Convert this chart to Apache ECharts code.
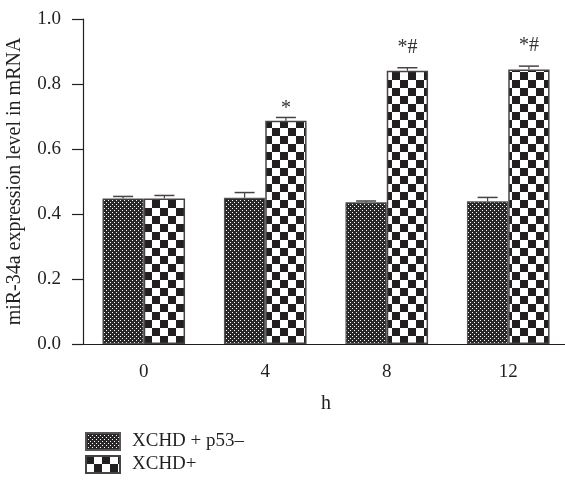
<!DOCTYPE html>
<html><head><meta charset="utf-8">
<script src="https://cdn.jsdelivr.net/npm/echarts@6/dist/echarts.min.js"></script>
<style>html,body{margin:0;padding:0;background:#fff}#c{width:565px;height:483px}</style>
</head><body><div id="c"></div>
<script>
const categories = ['0', '4', '8', '12'];
const p53Values = [0.448, 0.450, 0.436, 0.439];
const p53Err = [0.006, 0.016, 0.004, 0.012];
const xchdValues = [0.448, 0.687, 0.841, 0.845];
const xchdErr = [0.009, 0.010, 0.009, 0.010];
const xchdMarks = ['', '*', '*#', '*#'];
const seriesNames = ['XCHD + p53\u2013', 'XCHD+'];
const yMin = 0, yMax = 1.0, yStep = 0.2;

const INK = '#231f20';
const FONT = '"Liberation Serif", "DejaVu Serif", serif';

function checker() {
  const c = document.createElement('canvas'); c.width = 16; c.height = 16;
  const g = c.getContext('2d');
  g.fillStyle = '#fff'; g.fillRect(0, 0, 16, 16);
  g.fillStyle = INK; g.fillRect(0, 0, 8, 8); g.fillRect(8, 8, 8, 8);
  return c;
}
function dotted() {
  const c = document.createElement('canvas'); c.width = 4; c.height = 4;
  const g = c.getContext('2d');
  g.fillStyle = '#2a2728'; g.fillRect(0, 0, 4, 4);
  g.fillStyle = '#fff'; g.fillRect(0, 0, 1, 1); g.fillRect(2, 2, 1, 1);
  return c;
}
const GAP = 0.32;
function errRender(side, marks) {
  return function (params, api) {
    const idx = api.value(0), v = api.value(1), top = api.value(2);
    const band = api.size([1, 0])[0];
    const bw = band * (1 - GAP) / 2;
    const c0 = api.coord([idx, v]);
    const c1 = api.coord([idx, top]);
    const x = c0[0] + side * bw / 2;
    const half = 10;
    const children = [
      { type: 'line', shape: { x1: x, y1: c0[1], x2: x, y2: c1[1] }, style: { stroke: '#444', lineWidth: 1.2 } },
      { type: 'line', shape: { x1: x - half, y1: c1[1], x2: x + half, y2: c1[1] }, style: { stroke: '#444', lineWidth: 1.5 } }
    ];
    const m = marks && marks[params.dataIndex];
    if (m) {
      children.push({ type: 'text', style: { x: x, y: c1[1] - (m.length > 1 ? 10 : -1), text: m, align: 'center', verticalAlign: 'bottom', fill: '#333', font: '20px ' + FONT } });
    }
    return { type: 'group', children };
  };
}

const chart = echarts.init(document.getElementById('c'));
chart.setOption({
  animation: false,
  textStyle: { fontFamily: FONT, color: INK },
  grid: { left: 83, right: -4, top: 19, bottom: 139, containLabel: false, outerBoundsMode: 'none' },
  legend: {
    orient: 'vertical', left: 85, top: 432, padding: 0, itemWidth: 34, itemHeight: 17, itemGap: 4,
    icon: 'rect',
    textStyle: { fontSize: 19, fontFamily: FONT, color: INK, padding: [0, 0, 0, 7] },
    data: seriesNames
  },
  xAxis: {
    type: 'category', data: categories,
    name: 'h', nameLocation: 'middle', nameGap: 50,
    nameTextStyle: { fontSize: 20, fontFamily: FONT, color: INK },
    axisLine: { lineStyle: { color: INK, width: 1.2 } },
    axisTick: { alignWithLabel: true, length: 10, lineStyle: { color: INK, width: 1.2 } },
    axisLabel: { fontSize: 19, fontFamily: FONT, color: INK, margin: 19 }
  },
  yAxis: {
    type: 'value', min: yMin, max: yMax, interval: yStep,
    name: 'miR-34a expression level in mRNA', nameLocation: 'middle', nameGap: 58,
    nameTextStyle: { fontSize: 20, fontFamily: FONT, color: INK },
    axisLine: { show: true, lineStyle: { color: INK, width: 1.2 } },
    axisTick: { show: true, length: 11, lineStyle: { color: INK, width: 1.2 } },
    axisLabel: { fontSize: 19, fontFamily: FONT, color: INK, margin: 22, formatter: v => v.toFixed(1) },
    splitLine: { show: false }
  },
  series: [
    { name: seriesNames[0], type: 'bar', data: p53Values, barGap: '0%', barCategoryGap: (GAP * 100) + '%',
      itemStyle: { color: { image: dotted(), repeat: 'repeat' }, borderColor: '#555', borderWidth: 1.2 } },
    { name: seriesNames[1], type: 'bar', data: xchdValues, barGap: '0%', barCategoryGap: (GAP * 100) + '%',
      itemStyle: { color: { image: checker(), repeat: 'repeat' }, borderColor: '#444', borderWidth: 1.5 } },
    { type: 'custom', renderItem: errRender(-1, null), silent: true, z: 5,
      encode: { x: 0, y: [1, 2] },
      data: p53Values.map((v, i) => [i, v, v + p53Err[i]]) },
    { type: 'custom', renderItem: errRender(1, xchdMarks), silent: true, z: 5,
      encode: { x: 0, y: [1, 2] },
      data: xchdValues.map((v, i) => [i, v, v + xchdErr[i]]) }
  ]
});
</script></body></html>
